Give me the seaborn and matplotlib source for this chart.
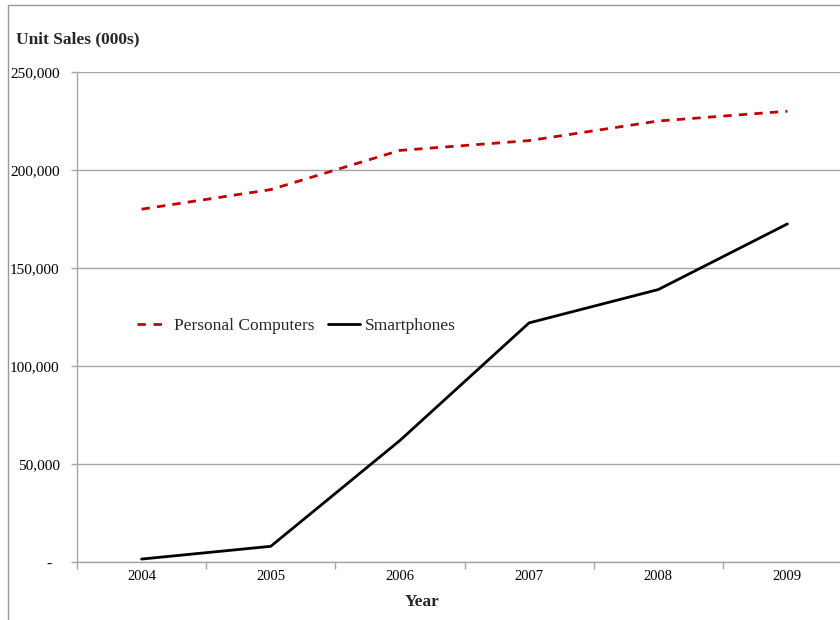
import matplotlib
matplotlib.use("Agg")
import matplotlib.pyplot as plt
from matplotlib.patches import Rectangle
import seaborn as sns
import pandas as pd

# Unit sales in thousands
years = [2004, 2005, 2006, 2007, 2008, 2009]
personal_computers = [180000, 190000, 210000, 215000, 225000, 230000]
smartphones = [1500, 8000, 62000, 122000, 139000, 172500]
series_names = ["Personal Computers", "Smartphones"]
y_ticks = [0, 50000, 100000, 150000, 200000, 250000]

df = pd.DataFrame({
    "Year": years * 2,
    "Units": personal_computers + smartphones,
    "Series": [series_names[0]] * len(years) + [series_names[1]] * len(years),
})

sns.set_theme(style="white")
plt.rcParams["font.family"] = ["Liberation Serif", "DejaVu Serif"]

fig = plt.figure(figsize=(8.4, 6.2), dpi=100)
ax = fig.add_axes([77 / 840, 58 / 620, 775 / 840, 490 / 620])

grey = "#a6a6a6"

sns.lineplot(
    data=df, x="Year", y="Units", hue="Series", style="Series",
    palette={series_names[0]: "#c00000", series_names[1]: "#000000"},
    dashes={series_names[0]: (3, 2.6), series_names[1]: ""},
    linewidth=2, ax=ax, legend=True, zorder=3,
)
for line in ax.lines:
    line.set_solid_joinstyle("round")
    line.set_dash_joinstyle("round")

# Axes limits and ticks
ax.set_xlim(years[0] - 0.5, years[-1] + 0.5)
ax.set_ylim(0, 250000)
ax.set_yticks(y_ticks)
ax.set_yticklabels(["-  "] + [f"{v:,}" for v in y_ticks[1:]])

# Tick marks sit between categories; labels sit at the category centres
ax.set_xticks([y - 0.5 for y in years] + [years[-1] + 0.5])
ax.set_xticklabels([])
ax.set_xticks(years, minor=True)
ax.set_xticklabels([str(y) for y in years], minor=True)
ax.tick_params(axis="x", which="major", length=5, width=1, color=grey, direction="out", bottom=True)
ax.tick_params(axis="x", which="minor", length=0, pad=6, labelsize=10.5, labelcolor="#000000")
ax.tick_params(axis="y", which="major", length=4.5, width=1, color=grey, direction="out",
               left=True, pad=8, labelsize=11, labelcolor="#000000")

ax.grid(axis="y", color=grey, linewidth=1)
ax.grid(axis="x", visible=False)
for side in ["top", "right"]:
    ax.spines[side].set_visible(False)
for side in ["left", "bottom"]:
    ax.spines[side].set_color(grey)
    ax.spines[side].set_linewidth(1)
ax.set_xlabel("")
ax.set_ylabel("")

# Legend
handles, labels = ax.get_legend_handles_labels()
leg = ax.legend(
    handles, labels, ncol=2, frameon=False, fontsize=12.5,
    loc="center left", bbox_to_anchor=(137 / 840, 1 - 326 / 620),
    bbox_transform=fig.transFigure, borderpad=0, borderaxespad=0,
    handlelength=1.85, handletextpad=0.3, columnspacing=0.75,
)
# two clean dashes in the legend sample
leg.get_lines()[0].set_dashes((3, 2.8))

# Titles
fig.text(16 / 840, 1 - 43 / 620, "Unit Sales (000s)", fontsize=12.5, fontweight="bold",
         ha="left", va="baseline")
fig.text(422 / 840, 1 - 606 / 620, "Year", fontsize=12.5, fontweight="bold",
         ha="center", va="baseline")

# Chart frame
fig.patches.append(Rectangle((7.5 / 840, -0.1), 2, 0.1 + 1 - 5.5 / 620,
                             transform=fig.transFigure, fill=False,
                             edgecolor="#999999", linewidth=1))

fig.savefig("out.png", dpi=100)
